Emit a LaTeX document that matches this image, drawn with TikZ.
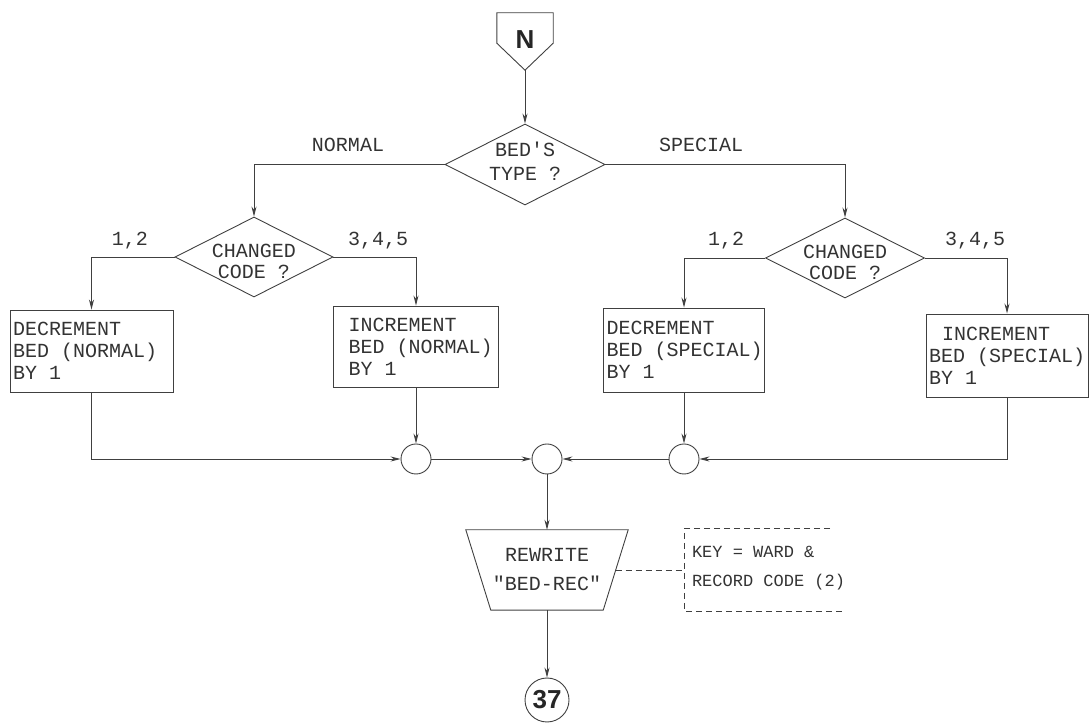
\documentclass[tikz,border=0pt]{standalone}
\usepackage{fontspec}
\setmonofont{Liberation Mono}
\newfontfamily\heavy{Liberation Sans}
\usetikzlibrary{shapes.geometric,arrows.meta,calc}
\hfuzz=20pt
\begin{document}
\begin{tikzpicture}[x=1pt,y=1pt,
  line/.style={draw=black!75, line width=0.9pt},
  arr/.style={line, -{Stealth[length=10pt,width=5pt]}},
  txt/.style={font=\fontsize{20}{22}\selectfont\ttfamily, text=black!80,
              execute at begin node={\spaceskip=0.6em\relax\xspaceskip=0.6em\relax}},
  dtxt/.style={txt, align=center},
  lbl/.style={txt, inner sep=0pt},
  proc/.style={rectangle, line, txt, align=left, inner xsep=3pt, inner ysep=0pt},
  decision/.style={diamond, line, inner sep=0pt},
  junction/.style={circle, line, minimum size=30pt, inner sep=0pt},
  heavytxt/.style={font=\heavy\bfseries\fontsize{26}{26}\selectfont, text=black!85}
]
\useasboundingbox (0,0) rectangle (1091,722);

% entry connector
\node[heavytxt, minimum width=56pt, minimum height=57pt, inner sep=0pt] (n) at (525,680.5) {\raisebox{4pt}{N}};
\draw[line] (n.north west) -- (n.north east) -- ($(n.south east)+(0,27)$) -- (n.south) -- ($(n.south west)+(0,27)$) -- cycle;

% decisions
\node[decision, minimum width=160pt, minimum height=81pt,
      label={[dtxt, yshift=3pt, font=\fontsize{20}{24}\selectfont\ttfamily]center:BED'S\\TYPE ?}] (d0) at (525,557.5) {};
\node[decision, minimum width=158pt, minimum height=80pt,
      label={[dtxt, yshift=-4pt, font=\fontsize{20}{21}\selectfont\ttfamily]center:CHANGED\\CODE ?}] (d1) at (254,465) {};
\node[decision, minimum width=159pt, minimum height=80pt,
      label={[dtxt, yshift=-4pt, font=\fontsize{20}{21}\selectfont\ttfamily]center:CHANGED\\CODE ?}] (d2) at (845,464) {};

% process boxes
\node[proc, text width=157pt, minimum height=82pt] (b1) at (91.5,371)
  {DECREMENT\\BED~(NORMAL)\\BY~1};
\node[proc, text width=159pt, minimum height=81pt] (b2) at (416,375.5)
  {\hspace*{12pt}INCREMENT\\\hspace*{12pt}BED~(NORMAL)\\\hspace*{12pt}BY~1};
\node[proc, text width=155pt, minimum height=84pt] (b3) at (684,372)
  {DECREMENT\\BED~(SPECIAL)\\BY~1};
\node[proc, text width=156pt, minimum height=83pt] (b4) at (1007,366.5)
  {\hspace*{13pt}INCREMENT\\BED~(SPECIAL)\\BY~1};

% junctions
\node[junction] (c1) at (416,263) {};
\node[junction] (c2) at (547,263) {};
\node[junction] (c3) at (684,263) {};

% rewrite (trapezium)
\node[txt, align=center, minimum width=162pt, minimum height=80pt, inner sep=0pt,
      font=\fontsize{20}{29}\selectfont\ttfamily] (rw) at (547,152) {REWRITE\\"BED-REC"};
\draw[line] (rw.north west) -- (rw.north east) -- ($(rw.south east)+(-25,0)$) -- ($(rw.south west)+(25,0)$) -- cycle;

% annotation
\node[txt, align=left, minimum width=160pt, minimum height=83pt, inner xsep=7pt, inner ysep=0pt,
      text width=146pt, font=\fontsize{17}{29}\selectfont\ttfamily] (key) at (765,152)
  {\raisebox{7pt}{KEY = WARD \&}\\\raisebox{7pt}{RECORD CODE (2)}};
\draw[line, dash pattern=on 6pt off 4pt] ($(key.north east)+(-15,0)$) -- (key.north west) -- (key.south west) -- (key.south east);
\draw[line, dash pattern=on 6pt off 4pt] ($(rw.east)+(-12.5,0)$) -- (key.west);

% terminal connector
\node[circle, line, minimum size=44pt, inner sep=0pt, heavytxt] (c37) at (547,22) {37};

% branch labels
\node[lbl] (lnormal) at (348,577) {NORMAL};
\node[lbl] (lspecial) at (701,577) {SPECIAL};
\node[lbl] (l12a) at (130,481) {1,2};
\node[lbl] (l345a) at (378,481) {3,4,5};
\node[lbl] (l12b) at (726,481) {1,2};
\node[lbl] (l345b) at (975,481) {3,4,5};

% connectors
\draw[arr] (n.south) -- (d0.north);
\draw[arr] (d0.west) -| (d1.north);
\draw[arr] (d0.east) -| (d2.north);
\draw[arr] (d1.west) -| (b1.north);
\draw[arr] (d1.east) -| (b2.north);
\draw[arr] (d2.west) -| (b3.north);
\draw[arr] (d2.east) -| (b4.north);
\draw[arr] (b1.south) |- (c1.west);
\draw[arr] (b2.south) -- (c1.north);
\draw[arr] (c1.east) -- (c2.west);
\draw[arr] (b3.south) -- (c3.north);
\draw[arr] (b4.south) |- (c3.east);
\draw[arr] (c3.west) -- (c2.east);
\draw[arr] (c2.south) -- (rw.north);
\draw[arr] (rw.south) -- (c37.north);
\end{tikzpicture}
\end{document}
